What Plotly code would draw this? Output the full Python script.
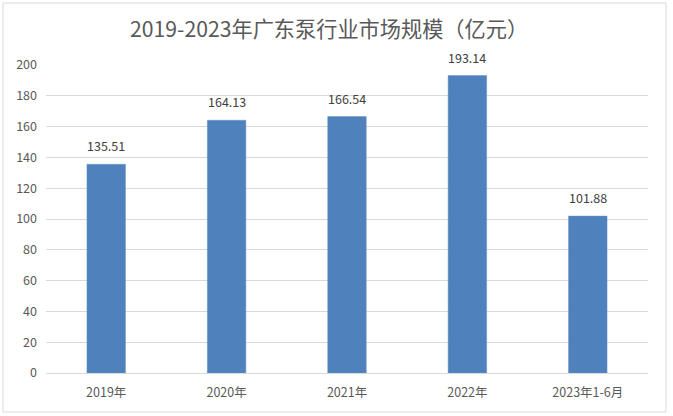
import plotly.graph_objects as go

categories = ["2019年", "2020年", "2021年", "2022年", "2023年1-6月"]
values = [135.51, 164.13, 166.54, 193.14, 101.88]
value_labels = ["135.51", "164.13", "166.54", "193.14", "101.88"]
y_ticks = [0, 20, 40, 60, 80, 100, 120, 140, 160, 180, 200]

W, H = 673, 416
ml, mr, mt, mb = 46, 25, 65, 43
pw, ph = W - ml - mr, H - mt - mb

def px(x):
    return (x - ml) / pw

def py(y):
    return (H - mb - y) / ph

font = "Noto Sans CJK SC, Microsoft YaHei, sans-serif"

fig = go.Figure(go.Bar(
    x=categories, y=values,
    marker=dict(color="#4f81bd", line=dict(color="#6a95c8", width=0.5)),
    width=0.32,
    hoverinfo="x+y",
))

for c, v, t in zip(categories, values, value_labels):
    fig.add_annotation(x=c, y=v, text=t, showarrow=False, xanchor="center",
                       yanchor="middle", yshift=18.5,
                       font=dict(size=12.5, color="#404040", family=font))

fig.update_layout(
    width=W, height=H,
    margin=dict(l=ml, r=mr, t=mt, b=mb),
    paper_bgcolor="white", plot_bgcolor="white",
    font=dict(family=font, color="#595959", size=12),
    title=dict(text="2019-2023年广东泵行业市场规模（亿元）", x=0.489, xanchor="center",
               y=1 - 30 / H, yanchor="middle",
               font=dict(size=21.2, color="#595959", family=font)),
    showlegend=False,
    bargap=0.68,
    xaxis=dict(showgrid=False, showline=True, linecolor="#d9d9d9", linewidth=1,
               ticks="", ticklabelstandoff=8, tickfont=dict(size=12.5, color="#595959"),
               automargin=False),
    yaxis=dict(range=[0, 200], tickvals=y_ticks, showgrid=True, gridcolor="#d9d9d9",
               gridwidth=1, zeroline=False, showline=False, ticks="",
               ticklabelstandoff=8, tickfont=dict(size=12.5, color="#595959"), automargin=False),
    shapes=[dict(type="rect", xref="paper", yref="paper",
                 x0=px(3), x1=px(666), y0=py(412), y1=py(3),
                 line=dict(color="#d9d9d9", width=1), fillcolor="rgba(0,0,0,0)", layer="below")],
)

fig.write_html("out.html", config={"displayModeBar": False},
               post_script="document.body.style.margin='0';document.body.style.overflow='hidden';")
